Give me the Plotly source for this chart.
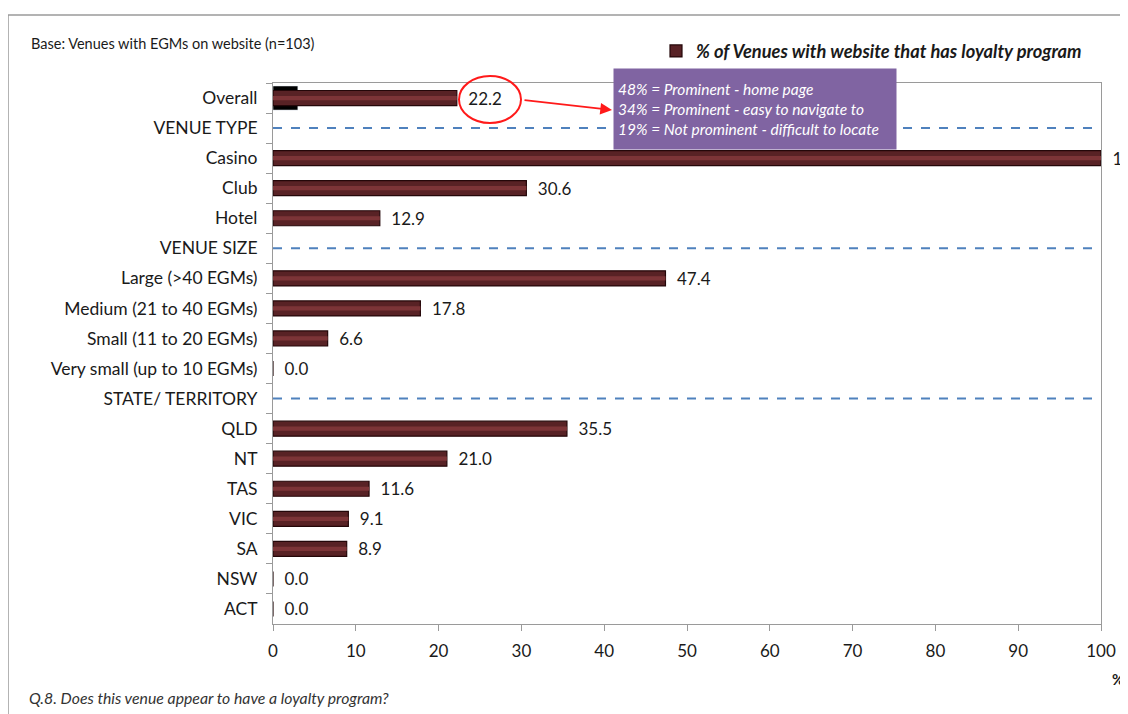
import plotly.graph_objects as go

categories = ["Overall", "VENUE TYPE", "Casino", "Club", "Hotel", "VENUE SIZE",
              "Large (>40 EGMs)", "Medium (21 to 40 EGMs)", "Small (11 to 20 EGMs)",
              "Very small (up to 10 EGMs)", "STATE/ TERRITORY", "QLD", "NT", "TAS",
              "VIC", "SA", "NSW", "ACT"]
values = [22.2, None, 100.0, 30.6, 12.9, None, 47.4, 17.8, 6.6, 0.0, None,
          35.5, 21.0, 11.6, 9.1, 8.9, 0.0, 0.0]
headers = ["VENUE TYPE", "VENUE SIZE", "STATE/ TERRITORY"]
overall_marker_cat = ["Overall"]
overall_marker_val = [3.0]
x_ticks = [0, 10, 20, 30, 40, 50, 60, 70, 80, 90, 100]
series_name = "% of Venues with website that has loyalty program"
callout_lines = ["48% = Prominent - home page",
                 "34% = Prominent - easy to navigate to",
                 "19% = Not prominent - difficult to locate"]

FONT = "Lato"
OFF = 8  # page body margin
W, H = 1128 - OFF, 714 - OFF
L, R, T, B = 273 - OFF, 27, 83 - OFF, 90
pw, ph = W - L - R, H - T - B

def px_x(p):  # page pixel -> paper x
    return (p - OFF - L) / pw

def px_y(p):  # page pixel -> paper y
    return (H - B - (p - OFF)) / ph

labels = ["" if v is None else "\u2002" + f"{v:.1f}" for v in values]

fig = go.Figure()
fig.add_trace(go.Bar(y=overall_marker_cat, x=overall_marker_val, orientation="h",
                     width=0.8, marker=dict(color="#000000"), showlegend=False,
                     hoverinfo="skip"))
fig.add_trace(go.Bar(y=categories, x=values, orientation="h", width=0.5,
                     name="<b><i>" + series_name + "</i></b>",
                     marker=dict(color="#582225", line=dict(color="#240709", width=1.2)),
                     text=labels, textposition="outside", cliponaxis=False,
                     constraintext="none",
                     textfont=dict(family=FONT, size=17, color="#1a1a1a")))
fig.add_trace(go.Bar(y=categories, x=values, orientation="h", width=0.14,
                     marker=dict(color="#7c3437", line=dict(width=0)),
                     showlegend=False, hoverinfo="skip"))

shapes = []
for hname in headers:
    shapes.append(dict(type="line", xref="x domain", x0=0, x1=1, yref="y",
                       y0=hname, y1=hname,
                       line=dict(color="#4F81BD", width=2, dash="dash")))
# outer chart border
shapes.append(dict(type="rect", xref="paper", yref="paper",
                   x0=px_x(8), x1=px_x(1150), y0=px_y(740), y1=px_y(15),
                   line=dict(color="#9a9a9a", width=1.5), fillcolor="rgba(0,0,0,0)",
                   layer="below"))
# red circle around overall value
shapes.append(dict(type="circle", xref="paper", yref="paper",
                   x0=px_x(459), x1=px_x(521), y0=px_y(123), y1=px_y(76),
                   line=dict(color="#ff1a1a", width=2)))

annotations = [
    dict(xref="paper", yref="paper", x=px_x(29), y=px_y(44), xanchor="left",
         yanchor="middle", showarrow=False,
         text="Base: Venues with EGMs on website (n=103)",
         font=dict(family=FONT, size=14.5, color="#1a1a1a")),
    dict(xref="paper", yref="paper", x=px_x(613), y=px_y(68), xanchor="left",
         yanchor="top", showarrow=False, align="left", valign="middle",
         width=274, height=72, borderpad=4, bgcolor="#8064A2",
         text="<br>".join("<i>" + s + "</i>" for s in callout_lines),
         font=dict(family=FONT, size=15.5, color="#ffffff")),
    dict(xref="paper", yref="paper", x=px_x(612), y=px_y(110), ax=-89, ay=-10,
         axref="pixel", ayref="pixel", showarrow=True, arrowhead=2, arrowsize=1.3,
         arrowwidth=1.8, arrowcolor="#ff1a1a", text=""),
    dict(xref="paper", yref="paper", x=px_x(1118), y=px_y(668), xanchor="center",
         yanchor="top", showarrow=False,
         text="<b>%</b>", font=dict(family=FONT, size=15, color="#1a1a1a")),
    dict(xref="paper", yref="paper", x=px_x(27), y=px_y(697), xanchor="left",
         yanchor="middle", showarrow=False,
         text="<i>Q.8. Does this venue appear to have a loyalty program?</i>",
         font=dict(family=FONT, size=15.8, color="#333333")),
]

fig.update_layout(
    width=W, height=H, margin=dict(l=L, r=R, t=T, b=B, pad=0),
    paper_bgcolor="#ffffff", plot_bgcolor="#ffffff",
    barmode="overlay", bargap=0.5,
    font=dict(family=FONT, size=17, color="#1a1a1a"),
    xaxis=dict(range=[0, 100], tickvals=x_ticks, showgrid=False, zeroline=False,
               showline=True, linecolor="#9a9a9a", linewidth=1, mirror=True,
               ticks="outside", ticklen=6, tickcolor="#9a9a9a",
               ticklabelstandoff=6,
               tickfont=dict(family=FONT, size=17, color="#1a1a1a")),
    yaxis=dict(categoryorder="array", categoryarray=categories, autorange="reversed",
               showgrid=False, showline=True, linecolor="#9a9a9a", linewidth=1,
               mirror=True, ticks="outside", ticklen=6, tickcolor="#9a9a9a",
               tickson="boundaries", ticklabelstandoff=11,
               tickfont=dict(family=FONT, size=17.5, color="#1a1a1a")),
    legend=dict(x=px_x(656), y=px_y(51), xanchor="left", yanchor="middle",
                orientation="h", bgcolor="rgba(0,0,0,0)",
                font=dict(family=FONT, size=18.3, color="#1a1a1a"),
                itemwidth=30),
    shapes=shapes, annotations=annotations,
)

fig.write_html("out.html")
